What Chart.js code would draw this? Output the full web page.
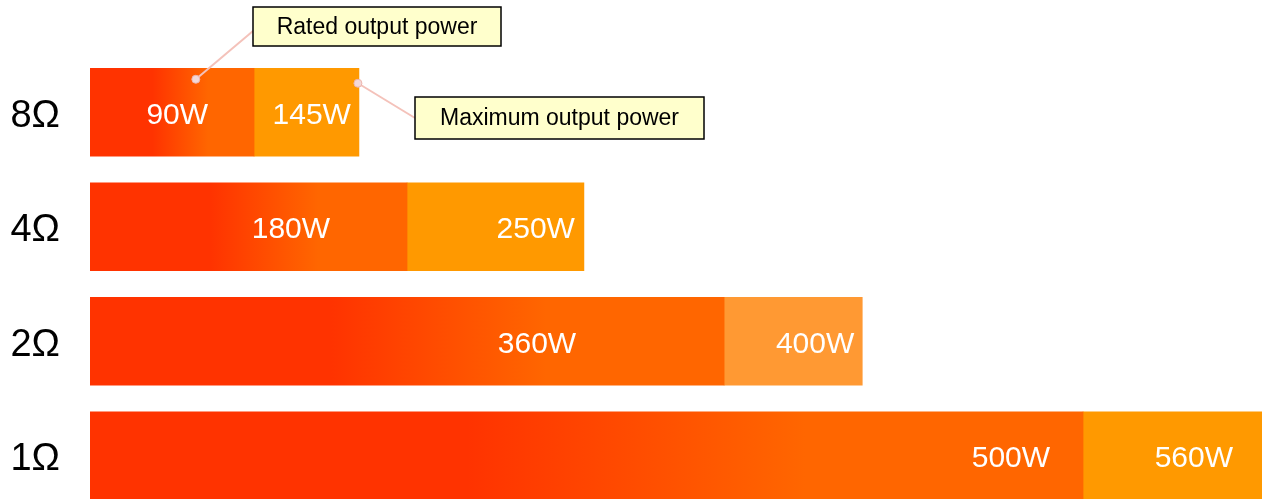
<!DOCTYPE html>
<html>
<head>
<meta charset="utf-8">
<title>Output power by impedance</title>
<script src="https://cdn.jsdelivr.net/npm/chart.js@4.4.1/dist/chart.umd.min.js"></script>
<style>
  html, body { margin: 0; padding: 0; background: #fff; overflow: hidden; }
  #chart-power { position: absolute; left: 0; top: 0; display: block; }
</style>
</head>
<body>
<canvas id="chart-power" width="1264" height="530"></canvas>
<script>
/* ── Output power per load impedance ──────────────── */

const impedances = ["8Ω", "4Ω", "2Ω", "1Ω"];
const ratedWatts = [90, 180, 360, 500];
const maxWatts = [145, 250, 400, 560];

// the bars in the source are not drawn to scale, so keep the extents as drawn
const ratedExtent = [78.4, 151.5, 303, 474.5];
const maxExtent = [128.5, 236, 369, 560];
const axisMax = 560;

const RED = "#FF3300";
const ORANGE = "#FF6600";
const MAX_COLORS = ["#FF9900", "#FF9900", "#FF9933", "#FF9900"];
const FONT = '"Liberation Sans", Arial, sans-serif';

function ratedFill(ctx) {
  const chart = ctx.chart;
  const x = chart.scales.x;
  if (!x || ctx.dataIndex == null) return RED;
  const x0 = x.getPixelForValue(0);
  const x1 = x.getPixelForValue(ratedExtent[ctx.dataIndex]);
  if (!isFinite(x0) || !isFinite(x1) || x1 <= x0) return RED;
  const grad = chart.ctx.createLinearGradient(x0, 0, x1, 0);
  grad.addColorStop(0, RED);
  grad.addColorStop(0.38, RED);
  grad.addColorStop(0.72, ORANGE);
  grad.addColorStop(1, ORANGE);
  return grad;
}

const labelsAndCallouts = {
  id: "labelsAndCallouts",
  afterDatasetsDraw(chart, args, opts) {
    const ctx = chart.ctx;
    const rated = chart.getDatasetMeta(0).data;
    const max = chart.getDatasetMeta(1).data;

    ctx.save();
    ctx.font = `30px ${FONT}`;
    ctx.fillStyle = "#fff";
    ctx.textAlign = "right";
    ctx.textBaseline = "middle";
    rated.forEach((bar, i) => {
      ctx.fillText(ratedWatts[i] + "W", bar.x - opts.ratedGap[i], bar.y + 3);
      ctx.fillText(maxWatts[i] + "W", max[i].x - opts.maxGap[i], bar.y + 3);
    });

    // callouts hang off the 8Ω bar
    const r = rated[0];
    const m = max[0];
    const top = r.y - r.height / 2;
    const ratedDot = { x: r.base + (r.x - r.base) * 0.645, y: top + 11 };
    const maxDot = { x: m.x - 1, y: top + 15 };

    const callout = (dot, box, end, text) => {
      ctx.strokeStyle = "#F4C2BA";
      ctx.lineWidth = 2;
      ctx.beginPath();
      ctx.moveTo(dot.x, dot.y);
      ctx.lineTo(end.x, end.y);
      ctx.stroke();
      ctx.beginPath();
      ctx.arc(dot.x, dot.y, 4, 0, Math.PI * 2);
      ctx.fillStyle = "#F3D8D8";
      ctx.fill();
      ctx.strokeStyle = "#EDB4AC";
      ctx.lineWidth = 1;
      ctx.stroke();

      ctx.fillStyle = "#FFFFCC";
      ctx.fillRect(box.x, box.y, box.w, box.h);
      ctx.strokeStyle = "#000";
      ctx.lineWidth = 1.5;
      ctx.strokeRect(box.x, box.y, box.w, box.h);
      ctx.fillStyle = "#000";
      ctx.font = `23px ${FONT}`;
      ctx.textAlign = "center";
      ctx.textBaseline = "middle";
      ctx.fillText(text, box.x + box.w / 2, box.y + box.h / 2 + 1);
    };

    callout(ratedDot, { x: 253, y: 7, w: 248, h: 39 }, { x: 253, y: 31 }, "Rated output power");
    callout(maxDot, { x: 415, y: 97, w: 289, h: 42 }, { x: 415, y: 118 }, "Maximum output power");
    ctx.restore();
  },
};

Chart.defaults.font.family = FONT;

new Chart(document.getElementById("chart-power"), {
  type: "bar",
  data: {
    labels: impedances,
    datasets: [
      {
        label: "Rated output power",
        data: ratedExtent,
        backgroundColor: ratedFill,
        borderWidth: 0,
        grouped: false,
        barThickness: 88,
      },
      {
        label: "Maximum output power",
        data: ratedExtent.map((v, i) => [v, maxExtent[i]]),
        backgroundColor: MAX_COLORS,
        borderWidth: 0,
        grouped: false,
        barThickness: 88,
      },
    ],
  },
  options: {
    indexAxis: "y",
    responsive: false,
    devicePixelRatio: 1,
    animation: false,
    layout: { padding: { top: 55, bottom: 17, left: 0, right: 2 } },
    plugins: {
      legend: { display: false },
      tooltip: { enabled: false },
      labelsAndCallouts: {
        ratedGap: [46, 77, 148, 33],
        maxGap: [8, 9, 8, 29],
      },
    },
    scales: {
      x: { display: false, min: 0, max: axisMax },
      y: {
        grid: { display: false },
        border: { display: false },
        ticks: { color: "#000", padding: 22, labelOffset: 4, font: { size: 38 } },
        afterFit: (scale) => {
          scale.width = 90;
          // big tick labels would otherwise eat into the plot height
          scale.paddingTop = 0;
          scale.paddingBottom = 0;
        },
      },
    },
  },
  plugins: [labelsAndCallouts],
});
</script>
</body>
</html>
